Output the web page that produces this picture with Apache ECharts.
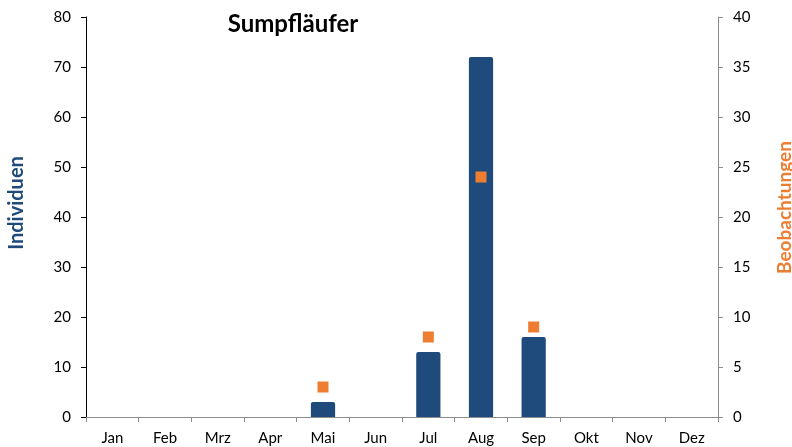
<!DOCTYPE html>
<html>
<head>
<meta charset="utf-8">
<script src="https://cdn.jsdelivr.net/npm/echarts@6/dist/echarts.min.js"></script>
<style>
  html, body { margin: 0; padding: 0; background: #fff; }
  #chart { width: 792px; height: 447px; }
</style>
</head>
<body>
<div id="chart"></div>
<script>
// Monate
const months = ['Jan', 'Feb', 'Mrz', 'Apr', 'Mai', 'Jun', 'Jul', 'Aug', 'Sep', 'Okt', 'Nov', 'Dez']
// Individuen (linke Achse)
const individuen = [null, null, null, null, 3, null, 13, 72, 16, null, null, null]
// Beobachtungen (rechte Achse)
const beobachtungen = [null, null, null, null, 3, null, 8, 24, 9, null, null, null]

const fontFamily = 'Lato, "Open Sans", sans-serif'
const chart = echarts.init(document.getElementById('chart'))

chart.setOption({
  animation: false,
  title: {
    text: 'Sumpfläufer',
    left: 288,
    top: 7,
    textAlign: 'center',
    textStyle: { fontFamily: fontFamily, fontSize: 24, fontWeight: 'bold', color: '#000' }
  },
  grid: { left: 86, right: 74, top: 17, bottom: 30, outerBoundsMode: 'none', containLabel: false },
  xAxis: {
    type: 'category',
    data: months,
    axisLine: { lineStyle: { color: '#8c8c8c' } },
    axisTick: { show: true, length: 5, lineStyle: { color: '#8c8c8c' } },
    axisLabel: { margin: 14, fontFamily: fontFamily, fontSize: 15, color: '#000' }
  },
  yAxis: [
    {
      type: 'value',
      min: 0,
      max: 80,
      interval: 10,
      name: 'Individuen',
      nameLocation: 'middle',
      nameRotate: 90,
      nameGap: 59,
      nameTextStyle: { fontFamily: fontFamily, fontSize: 20, fontWeight: 'bold', color: '#1F4B7C', padding: [0, 0, 0, 28] },
      axisLine: { show: true, lineStyle: { color: '#000' } },
      axisTick: { show: true, length: 5, lineStyle: { color: '#000' } },
      axisLabel: { margin: 15, fontFamily: fontFamily, fontSize: 15, color: '#000' },
      splitLine: { show: false }
    },
    {
      type: 'value',
      min: 0,
      max: 40,
      interval: 5,
      position: 'right',
      name: 'Beobachtungen',
      nameLocation: 'middle',
      nameRotate: 90,
      nameGap: 57,
      nameTextStyle: { fontFamily: fontFamily, fontSize: 19, fontWeight: 'bold', color: '#ED7D31', padding: [0, 0, 0, 19] },
      axisLine: { show: true, lineStyle: { color: '#8c8c8c' } },
      axisTick: { show: true, length: 5, lineStyle: { color: '#8c8c8c' } },
      axisLabel: { margin: 15, fontFamily: fontFamily, fontSize: 15, color: '#000' },
      splitLine: { show: false }
    }
  ],
  series: [
    {
      name: 'Individuen',
      type: 'bar',
      yAxisIndex: 0,
      data: individuen,
      barWidth: '46%',
      itemStyle: { color: '#1F4B7C', borderRadius: [2, 2, 0, 0] }
    },
    {
      name: 'Beobachtungen',
      type: 'scatter',
      yAxisIndex: 1,
      data: beobachtungen,
      symbol: 'rect',
      symbolSize: 11,
      itemStyle: { color: '#ED7D31', opacity: 1 },
      z: 3
    }
  ]
})
</script>
</body>
</html>
